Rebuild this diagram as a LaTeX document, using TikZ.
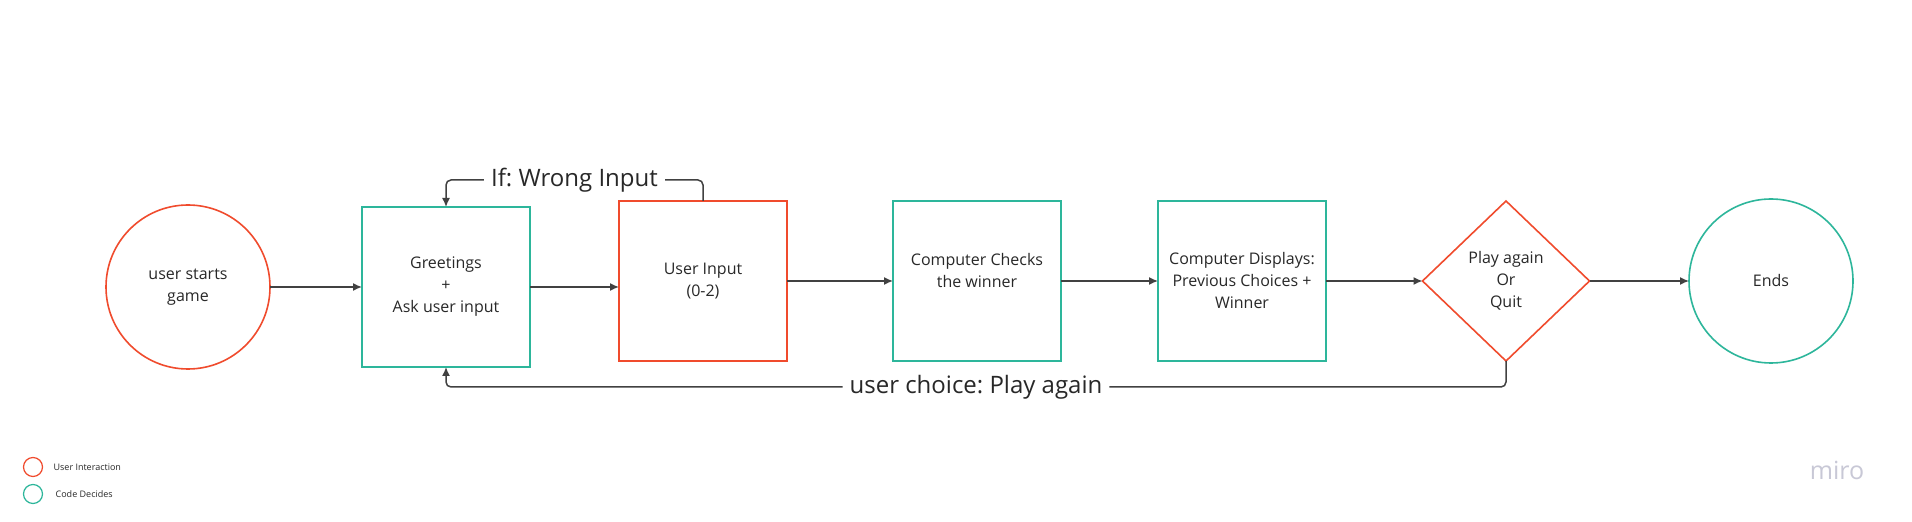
\documentclass[tikz,border=0pt]{standalone}
\usepackage{fontspec}
\setmainfont{Open Sans}
\frenchspacing
\definecolor{rojo}{RGB}{240,75,45}
\definecolor{verde}{RGB}{45,182,155}
\definecolor{gris}{RGB}{65,65,65}
\definecolor{texto}{RGB}{40,40,40}
\definecolor{marca}{RGB}{200,200,214}
\usetikzlibrary{arrows.meta,shapes.geometric,positioning}

\begin{document}
\begin{tikzpicture}[x=1pt,y=1pt,
    caja/.style={draw,line width=1.6pt,fill=white,outer sep=0pt,
      minimum width=168pt,minimum height=160pt,
      align=center,font=\fontsize{16}{22}\selectfont,text=texto},
    ronda/.style={draw,circle,line width=1.6pt,outer sep=0pt,minimum size=164pt,
      align=center,font=\fontsize{16}{22}\selectfont,text=texto},
    rombo/.style={draw,diamond,line width=1.6pt,inner sep=0pt,outer sep=0pt,
      minimum width=167pt,minimum height=160pt,
      align=center,font=\fontsize{16}{22}\selectfont,text=texto},
    flecha/.style={-{Latex[length=9pt,width=8pt]},line width=1.5pt,gris},
    etiqueta/.style={fill=white,inner xsep=7pt,
      font=\fontsize{24}{28}\selectfont,text=texto},
    leyenda/.style={draw,circle,line width=1.2pt,minimum size=19pt,inner sep=0pt}]

      \path[use as bounding box,fill=white] (0,0) rectangle (1912,522);

      % main flow
      \node[caja,draw=verde] (greet) at (446,235)
            {Greetings\\+\\Ask user input};
      \node[ronda,draw=rojo,left=92pt of greet] (start)
            {user starts\\game};
      \node[caja,draw=rojo] (input) at (703,241)
            {User Input\\(0-2)};
      \node[caja,draw=verde,right=106pt of input] (check)
            {Computer Checks\\the winner\\\mbox{}};
      \node[caja,draw=verde,right=97pt of check] (disp)
            {Computer Displays:\\Previous Choices +\\Winner};
      \node[rombo,draw=rojo] (quit) at (1506,241)
            {Play again\\Or\\Quit};
      \node[ronda,draw=verde] (ends) at (1771,241) {Ends};

      \draw[flecha] (start) -- (greet);
      \draw[flecha] (greet.east) -- (greet.east -| input.west);
      \draw[flecha] (input) -- (check);
      \draw[flecha] (check) -- (disp);
      \draw[flecha] (disp) -- (quit);
      \draw[flecha] (quit) -- (ends);

      % loops back
      \draw[flecha,rounded corners=5pt] (input.north) -- ++(0,21)
            -| (greet.north) node[etiqueta,pos=0.25] {If: Wrong Input};
      \draw[flecha,rounded corners=5pt] (quit.south) -- ++(0,-26)
            -| (greet.south) node[etiqueta,pos=0.25] {user choice: Play again};

      % legend
      \node[leyenda,draw=rojo] (leyu) at (33,55) {};
      \node[leyenda,draw=verde] (leyc) at (33,28) {};
      \node[right=7pt of leyu,font=\fontsize{9}{11}\selectfont,text=texto]
            (txtu) {User Interaction};
      \node[right=9pt of leyc,font=\fontsize{9}{11}\selectfont,text=texto]
            (txtc) {Code Decides};

      \node[font=\fontsize{25}{28}\selectfont,text=marca] (logo)
            at (1837,52) {miro};
    \end{tikzpicture}
\end{document}
